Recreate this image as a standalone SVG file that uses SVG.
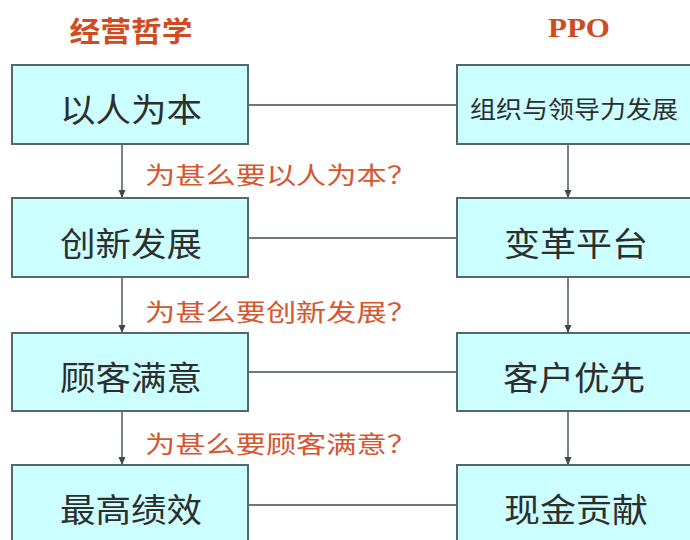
<svg xmlns="http://www.w3.org/2000/svg" width="690" height="540" viewBox="0 0 690 540">
<defs>
<style>
.box{fill:#CCFFFF;stroke:#56676a;stroke-width:2}
.lbl{font-family:"Noto Sans CJK SC","Noto Sans CJK TC",sans-serif;font-size:33px;fill:#2e2e2e;text-anchor:middle;dominant-baseline:central}
.sm{font-size:24px}
.q{font-family:"Noto Sans CJK SC",sans-serif;font-size:24px;fill:#d5562f;dominant-baseline:central}
.ttl{font-family:"Noto Sans CJK SC",sans-serif;font-size:28px;font-weight:bold;fill:#d04a22;text-anchor:middle;dominant-baseline:central}
.ppo{font-family:"Liberation Serif",serif;font-size:27px;font-weight:bold;fill:#d04a22;text-anchor:middle}
.h{stroke:#6a7a7c;stroke-width:2;fill:none}
.v{stroke:#4a5a5c;stroke-width:1.5;fill:none;marker-end:url(#ah)}
</style>
<marker id="ah" viewBox="0 0 8 8" refX="8" refY="4" markerWidth="8" markerHeight="8" markerUnits="userSpaceOnUse" orient="auto">
<path d="M0,0.5 L8,4 L0,7.5 Z" fill="#3a4a4c"/>
</marker>
</defs>
<g id="headers">
<text class="ttl" x="131" y="30" textLength="123" lengthAdjust="spacingAndGlyphs">经营哲学</text>
<text class="ppo" x="579" y="37" textLength="62" lengthAdjust="spacingAndGlyphs">PPO</text>
</g>
<g id="connectors">
<line class="h" x1="248" y1="105" x2="457" y2="105"/>
<line class="h" x1="248" y1="238" x2="457" y2="238"/>
<line class="h" x1="248" y1="372" x2="457" y2="372"/>
<line class="h" x1="248" y1="505" x2="457" y2="505"/>
<line class="v" x1="122" y1="144" x2="122" y2="198"/>
<line class="v" x1="122" y1="277" x2="122" y2="333"/>
<line class="v" x1="122" y1="411" x2="122" y2="465"/>
<line class="v" x1="568" y1="144" x2="568" y2="198"/>
<line class="v" x1="568" y1="277" x2="568" y2="333"/>
<line class="v" x1="568" y1="411" x2="568" y2="465"/>
</g>
<g id="questions">
<text class="q" x="145" y="173" textLength="272" lengthAdjust="spacingAndGlyphs">为甚么要以人为本？</text>
<text class="q" x="145" y="310" textLength="272" lengthAdjust="spacingAndGlyphs">为甚么要创新发展？</text>
<text class="q" x="145" y="442" textLength="272" lengthAdjust="spacingAndGlyphs">为甚么要顾客满意？</text>
</g>
<g id="n-yirenweiben">
<rect class="box" x="12" y="65" width="236" height="79"/>
<text class="lbl" x="131" y="108" textLength="142" lengthAdjust="spacingAndGlyphs">以人为本</text>
</g>
<g id="n-chuangxin">
<rect class="box" x="12" y="198" width="236" height="79"/>
<text class="lbl" x="131" y="242" textLength="142" lengthAdjust="spacingAndGlyphs">创新发展</text>
</g>
<g id="n-guke">
<rect class="box" x="12" y="333" width="236" height="78"/>
<text class="lbl" x="131" y="376" textLength="142" lengthAdjust="spacingAndGlyphs">顾客满意</text>
</g>
<g id="n-zuigao">
<rect class="box" x="12" y="465" width="236" height="90"/>
<text class="lbl" x="131" y="508" textLength="142" lengthAdjust="spacingAndGlyphs">最高绩效</text>
</g>
<g id="n-zuzhi">
<rect class="box" x="457" y="65" width="245" height="79"/>
<text class="lbl sm" x="574" y="107" textLength="208" lengthAdjust="spacingAndGlyphs">组织与领导力发展</text>
</g>
<g id="n-biange">
<rect class="box" x="457" y="198" width="245" height="79"/>
<text class="lbl" x="576" y="242" textLength="144" lengthAdjust="spacingAndGlyphs">变革平台</text>
</g>
<g id="n-kehu">
<rect class="box" x="457" y="333" width="245" height="78"/>
<text class="lbl" x="574" y="376" textLength="142" lengthAdjust="spacingAndGlyphs">客户优先</text>
</g>
<g id="n-xianjin">
<rect class="box" x="457" y="465" width="245" height="90"/>
<text class="lbl" x="576" y="508" textLength="144" lengthAdjust="spacingAndGlyphs">现金贡献</text>
</g>
</svg>
